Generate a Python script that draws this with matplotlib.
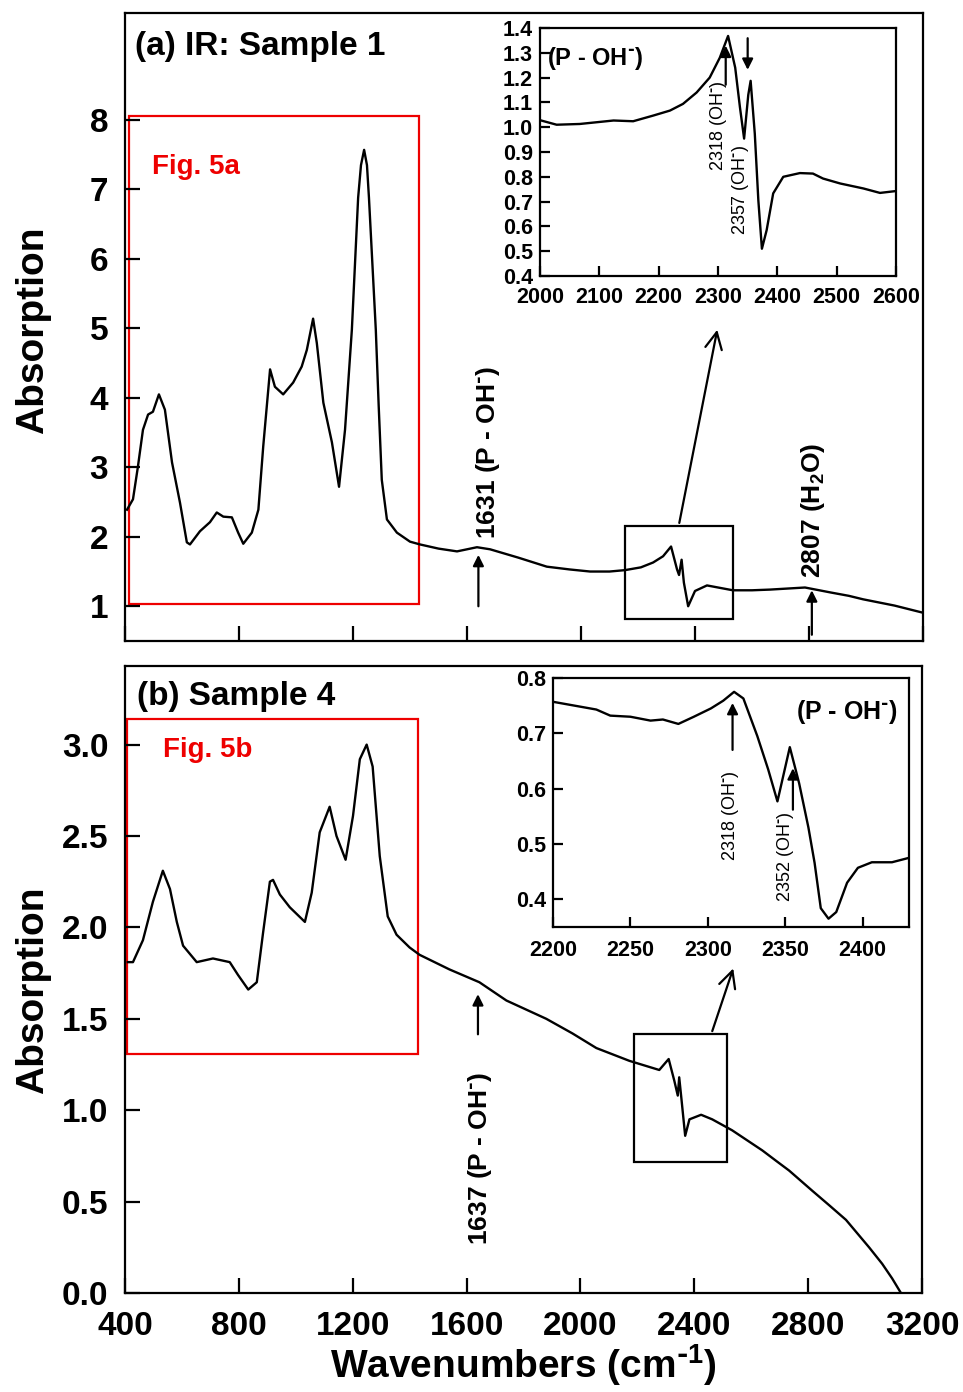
import matplotlib
matplotlib.use("Agg")
import matplotlib.pyplot as plt
from matplotlib.patches import Rectangle

plt.rcParams['font.family'] = ['Liberation Sans', 'DejaVu Sans']
plt.rcParams['font.weight'] = 'bold'
plt.rcParams['mathtext.default'] = 'regular'

# ---- data ----
# (a) Sample 1, full spectrum
wn_a = [407, 428, 445, 463, 481, 498, 519, 540, 565, 593, 617, 628, 663, 698, 722, 745,
        775, 797, 815, 845, 868, 885, 909, 926, 955, 990, 1020, 1038, 1060, 1073,
        1096, 1126, 1151, 1172, 1196, 1218, 1228, 1239, 1249, 1256, 1280, 1290, 1301,
        1319, 1354, 1400, 1435, 1500, 1565, 1635, 1681, 1780, 1880, 1960, 2032, 2100,
        2154, 2210, 2253, 2288, 2316, 2337, 2344, 2353, 2361, 2376, 2400, 2442, 2533,
        2600, 2663, 2786, 2874, 2940, 2990, 3100, 3197]
ab_a = [2.39, 2.54, 3.00, 3.54, 3.76, 3.80, 4.05, 3.83, 3.07, 2.49, 1.92, 1.89, 2.08,
        2.21, 2.35, 2.29, 2.28, 2.06, 1.90, 2.06, 2.39, 3.30, 4.41, 4.16, 4.05, 4.22,
        4.45, 4.69, 5.14, 4.79, 3.93, 3.36, 2.72, 3.54, 4.98, 6.88, 7.35, 7.57, 7.35,
        6.88, 4.98, 3.90, 2.82, 2.25, 2.06, 1.93, 1.89, 1.83, 1.79, 1.85, 1.82, 1.70,
        1.57, 1.53, 1.50, 1.50, 1.52, 1.56, 1.63, 1.72, 1.86, 1.53, 1.45, 1.67, 1.34,
        1.00, 1.22, 1.30, 1.23, 1.23, 1.24, 1.27, 1.20, 1.15, 1.10, 1.01, 0.91]

# (a) inset 2000-2600
wn_ai = [2002, 2028, 2067, 2124, 2157, 2191, 2219, 2241, 2264, 2286, 2303, 2317,
         2329, 2337, 2344, 2351, 2355, 2362, 2368, 2374, 2382, 2393, 2410, 2438,
         2460, 2477, 2506, 2545, 2573, 2598]
ab_ai = [1.027, 1.010, 1.013, 1.027, 1.024, 1.047, 1.067, 1.094, 1.140, 1.200,
         1.280, 1.368, 1.240, 1.080, 0.954, 1.130, 1.187, 0.974, 0.705, 0.510,
         0.585, 0.733, 0.800, 0.815, 0.813, 0.793, 0.773, 0.753, 0.735, 0.742]

# (b) Sample 4, full spectrum
wn_b = [410, 428, 463, 498, 533, 558, 582, 604, 652, 709, 768, 797, 833, 863, 885,
        909, 920, 944, 979, 1032, 1056, 1084, 1119, 1143, 1175, 1201, 1225, 1249,
        1270, 1295, 1323, 1354, 1400, 1435, 1540, 1645, 1740, 1880, 1972, 2056,
        2172, 2277, 2310, 2330, 2342, 2347, 2355, 2368, 2383, 2424, 2463, 2533,
        2639, 2690, 2733, 2814, 2874, 2933, 3014, 3060, 3095, 3126]
ab_b = [1.81, 1.81, 1.93, 2.14, 2.31, 2.21, 2.03, 1.90, 1.81, 1.83, 1.81, 1.74, 1.66,
        1.70, 1.97, 2.25, 2.26, 2.18, 2.11, 2.03, 2.19, 2.52, 2.66, 2.50, 2.37, 2.61,
        2.92, 3.00, 2.88, 2.39, 2.06, 1.96, 1.89, 1.85, 1.77, 1.70, 1.60, 1.50, 1.42,
        1.34, 1.27, 1.22, 1.28, 1.16, 1.08, 1.18, 1.06, 0.86, 0.95, 0.975, 0.95,
        0.89, 0.78, 0.72, 0.67, 0.56, 0.48, 0.40, 0.25, 0.16, 0.08, 0.0]

# (b) inset 2200-2430
wn_bi = [2200, 2218, 2228, 2237, 2250, 2263, 2271, 2281, 2291, 2302, 2310, 2317,
         2323, 2332, 2339, 2345, 2353, 2359, 2365, 2369, 2373, 2378, 2383, 2390,
         2397, 2406, 2419, 2430]
ab_bi = [0.757, 0.748, 0.743, 0.732, 0.730, 0.723, 0.725, 0.717, 0.730, 0.745,
         0.759, 0.775, 0.763, 0.695, 0.635, 0.577, 0.675, 0.610, 0.530, 0.466,
         0.384, 0.365, 0.377, 0.430, 0.457, 0.467, 0.467, 0.475]

main_xticks = [400, 800, 1200, 1600, 2000, 2400, 2800, 3200]
a_yticks = [1, 2, 3, 4, 5, 6, 7, 8]
b_yticks = [0.0, 0.5, 1.0, 1.5, 2.0, 2.5, 3.0]
ai_xticks = [2000, 2100, 2200, 2300, 2400, 2500, 2600]
ai_yticks = [0.4, 0.5, 0.6, 0.7, 0.8, 0.9, 1.0, 1.1, 1.2, 1.3, 1.4]
bi_xticks = [2200, 2250, 2300, 2350, 2400]
bi_yticks = [0.4, 0.5, 0.6, 0.7, 0.8]

OHm = 'OH$^{\\text{-}}$'

W, H = 963, 1392
fig = plt.figure(figsize=(W / 100, H / 100), dpi=100)


def px_axes(l, t, r, b):
    return fig.add_axes([l / W, 1 - b / H, (r - l) / W, (b - t) / H])


def style(ax, size, length, pad, lw=1.6):
    for s in ax.spines.values():
        s.set_linewidth(lw)
    ax.tick_params(direction='in', length=length, width=lw, labelsize=size,
                   pad=pad, top=False, right=False)
    for lab in ax.get_xticklabels() + ax.get_yticklabels():
        lab.set_fontweight('bold')


arrow_f = dict(arrowstyle='-|>', color='black', lw=1.6, mutation_scale=16)
arrow_o = dict(arrowstyle='->', color='black', lw=1.6, mutation_scale=30)

# ---------------- panel (a) ----------------
ax1 = px_axes(125, 13, 923, 641)
ax1.plot(wn_a, ab_a, color='black', lw=1.7)
ax1.set_xlim(400, 3200)
ax1.set_ylim(0.5, 9.54)
ax1.set_xticks(main_xticks)
ax1.set_xticklabels([])
ax1.set_yticks(a_yticks)
style(ax1, 24, 11, 12)
ax1.set_ylabel('Absorption', fontsize=28, fontweight='bold', va='center')
ax1.yaxis.set_label_coords(-0.115, 0.495)
ax1.text(0.0125, 0.946, '(a) IR: Sample 1', transform=ax1.transAxes,
         fontsize=24, fontweight='bold', va='center', ha='left')
ax1.add_patch(Rectangle((415, 1.03), 1016, 7.03, fill=False, edgecolor='#ee0000',
                        lw=1.6, clip_on=False))
ax1.text(0.034, 0.755, 'Fig. 5a', transform=ax1.transAxes, color='#ee0000',
         fontsize=20, fontweight='bold', va='center', ha='left')
ax1.annotate('', xy=(1640, 1.78), xytext=(1640, 0.96), arrowprops=arrow_f)
ax1.text(1672, 1.97, '1631 (P - ' + OHm + ')', rotation=90, ha='center', va='bottom',
         fontsize=19, fontweight='bold')
ax1.annotate('', xy=(2810, 1.27), xytext=(2810, 0.55), arrowprops=arrow_f)
ax1.text(2814, 1.40, '2807 (H$_2$O)', rotation=90, ha='center', va='bottom',
         fontsize=19, fontweight='bold')
ax1.add_patch(Rectangle((2154, 0.81), 379, 1.35, fill=False, edgecolor='black', lw=1.6))
ax1.annotate('', xy=(2480, 5.02), xytext=(2343, 2.16), arrowprops=arrow_o)

# inset (a)
ia = px_axes(540, 28, 896, 276)
ia.plot(wn_ai, ab_ai, color='black', lw=1.7)
ia.set_xlim(2000, 2600)
ia.set_ylim(0.4, 1.4)
ia.set_xticks(ai_xticks)
ia.set_yticks(ai_yticks)
ia.set_yticklabels(['%.1f' % v for v in ai_yticks])
style(ia, 15.5, 7, 5)
ia.tick_params(axis='x', pad=8)
ia.text(2012, 1.275, '(P - ' + OHm + ')', fontsize=17, fontweight='bold',
        va='center', ha='left')
ia.annotate('', xy=(2313, 1.34), xytext=(2313, 1.16), arrowprops=arrow_f)
ia.annotate('', xy=(2350, 1.22), xytext=(2350, 1.37), arrowprops=arrow_f)
ia.text(2301, 1.19, '2318 (' + OHm + ')', rotation=90, ha='center', va='top',
        fontsize=13, fontweight='normal')
ia.text(2338, 0.93, '2357 (' + OHm + ')', rotation=90, ha='center', va='top',
        fontsize=13, fontweight='normal')

# ---------------- panel (b) ----------------
ax2 = px_axes(125, 666, 922, 1293)
ax2.plot(wn_b, ab_b, color='black', lw=1.7)
ax2.set_xlim(400, 3200)
ax2.set_ylim(0, 3.43)
ax2.set_xticks(main_xticks)
ax2.set_yticks(b_yticks)
ax2.set_yticklabels(['%.1f' % v for v in b_yticks])
style(ax2, 24, 11, 12)
ax2.tick_params(axis='x', pad=13)
ax2.set_ylabel('Absorption', fontsize=28, fontweight='bold', va='center')
ax2.yaxis.set_label_coords(-0.115, 0.483)
ax2.set_xlabel('Wavenumbers (cm$^{\\text{-}1}$)', fontsize=28, fontweight='bold',
               labelpad=0)
ax2.text(0.015, 0.9506, '(b) Sample 4', transform=ax2.transAxes,
         fontsize=24, fontweight='bold', va='center', ha='left')
ax2.add_patch(Rectangle((407, 1.31), 1024, 1.83, fill=False, edgecolor='#ee0000',
                        lw=1.6, clip_on=False))
ax2.text(0.048, 0.866, 'Fig. 5b', transform=ax2.transAxes, color='#ee0000',
         fontsize=20, fontweight='bold', va='center', ha='left')
ax2.annotate('', xy=(1640, 1.65), xytext=(1640, 1.40), arrowprops=arrow_f)
ax2.text(1646, 1.21, '1637 (P - ' + OHm + ')', rotation=90, ha='center', va='top',
         fontsize=19, fontweight='bold')
ax2.add_patch(Rectangle((2189, 0.717), 327, 0.70, fill=False, edgecolor='black', lw=1.6))
ax2.annotate('', xy=(2540, 1.79), xytext=(2460, 1.418), arrowprops=arrow_o)

# inset (b)
ib = px_axes(553, 678, 909, 927)
ib.plot(wn_bi, ab_bi, color='black', lw=1.7)
ib.set_xlim(2200, 2430)
ib.set_ylim(0.35, 0.8)
ib.set_xticks(bi_xticks)
ib.set_yticks(bi_yticks)
style(ib, 15.5, 7, 5)
ib.tick_params(axis='x', pad=9)
ib.text(2390, 0.739, '(P - ' + OHm + ')', fontsize=18, fontweight='bold',
        va='center', ha='center')
ib.annotate('', xy=(2316, 0.76), xytext=(2316, 0.665), arrowprops=arrow_f)
ib.annotate('', xy=(2355, 0.642), xytext=(2355, 0.557), arrowprops=arrow_f)
ib.text(2315, 0.634, '2318 (' + OHm + ')', rotation=90, ha='center', va='top',
        fontsize=13, fontweight='normal')
ib.text(2350.5, 0.559, '2352 (' + OHm + ')', rotation=90, ha='center', va='top',
        fontsize=13, fontweight='normal')

fig.savefig('out.png', dpi=100)
